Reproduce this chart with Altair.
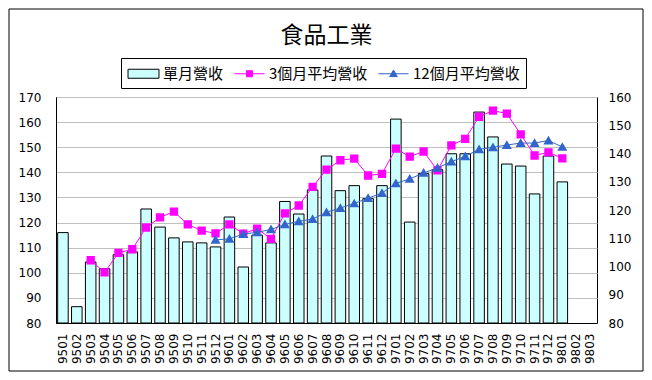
import altair as alt
import pandas as pd

months = ["9501", "9502", "9503", "9504", "9505", "9506", "9507", "9508", "9509", "9510", "9511", "9512",
          "9601", "9602", "9603", "9604", "9605", "9606", "9607", "9608", "9609", "9610", "9611", "9612",
          "9701", "9702", "9703", "9704", "9705", "9706", "9707", "9708", "9709", "9710", "9711", "9712",
          "9801", "9802", "9803"]

bar_vals = [116, 86.5, 104.3, 101.6, 107.2, 108.3, 125.4, 118.2, 113.9, 112.3, 111.9, 110.3,
            122.2, 102.3, 115.0, 111.9, 128.4, 123.4, 133.0, 146.5, 132.7, 134.7, 129.5, 134.7,
            161.2, 120.2, 139.5, 141.1, 147.4, 147.4, 164.0, 154.1, 143.3, 142.5, 131.4, 146.5,
            136.2]

avg3_vals = [102.2, 97.9, 104.8, 106.1, 113.8, 117.4, 119.4, 114.9, 112.7, 111.7,
             114.9, 111.6, 113.4, 109.8, 118.8, 121.6, 128.2, 134.3, 137.6, 138.2, 132.2, 132.8,
             141.7, 138.9, 140.7, 134.0, 142.9, 145.2, 153.0, 155.2, 154.1, 146.8, 139.3, 140.4,
             138.3]

avg12_vals = [109.4,
              109.8, 111.5, 112.1, 113.1, 114.9, 116.0, 116.8, 119.2, 120.7, 122.3, 124.2, 126.0,
              129.4, 131.0, 133.1, 134.9, 137.1, 139.0, 141.5, 142.2, 143.0, 143.7, 143.7, 144.6,
              142.3]

series_names = ["單月營收", "3個月平均營收", "12個月平均營收"]
series_colors = ["#CCFFFF", "#FF00FF", "#3366CC"]
series_strokes = ["black", "#FF00FF", "#3366CC"]
left_ticks = [80, 90, 100, 110, 120, 130, 140, 150, 160, 170]
right_ticks = [80, 90, 100, 110, 120, 130, 140, 150, 160]

bar_df = pd.DataFrame({"month": months[:len(bar_vals)], "value": bar_vals, "series": series_names[0]})
a3_df = pd.DataFrame({"month": months[2:2 + len(avg3_vals)], "value": avg3_vals, "series": series_names[1]})
a12_df = pd.DataFrame({"month": months[11:11 + len(avg12_vals)], "value": avg12_vals, "series": series_names[2]})

FONT = "DejaVu Sans"
CJK = "Noto Sans CJK TC"

x_enc = alt.X(
    "month:O",
    sort=months,
    scale=alt.Scale(domain=months, paddingInner=0.24, paddingOuter=0.12),
    axis=alt.Axis(title=None, labelAngle=270, labelFontSize=12, labelFont=FONT, labelColor="black",
                  ticks=False, domainColor="black", labelPadding=10, grid=False, labelOverlap=False),
)

n0, n1, n2 = series_names
shape_expr = (f"datum.value == '{n0}' ? 'M-1.72,-0.5H1.72V0.5H-1.72Z' : "
              f"(datum.value == '{n1}' ? 'M-1.67,0H1.67M-0.34,-0.34H0.34V0.34H-0.34Z' : "
              f"'M-1.67,0H1.67M0,-0.42L0.42,0.32H-0.42Z')")

legend = alt.Legend(
    title=None, orient="none", legendX=65, legendY=-39, direction="horizontal", columns=3,
    labelFont=CJK, labelFontSize=15, labelColor="black", symbolSize=324,
    strokeColor="black", padding=6, columnPadding=8, labelOffset=10, symbolOffset=7,
    symbolType=alt.ExprRef(expr=shape_expr),
    symbolStrokeWidth=1, symbolOpacity=1,
)

color = alt.Color("series:N", scale=alt.Scale(domain=series_names, range=series_colors), legend=legend)
stroke = alt.Stroke("series:N", scale=alt.Scale(domain=series_names, range=series_strokes), legend=legend)

bars = alt.Chart(bar_df).mark_bar(strokeWidth=1).encode(
    x=x_enc,
    y=alt.Y("value:Q", scale=alt.Scale(domain=[80, 170], nice=False, zero=False),
            axis=alt.Axis(title=None, values=left_ticks, labelFont=FONT, labelFontSize=12,
                          labelColor="black", ticks=False, labelPadding=15, domainColor="black",
                          grid=True, gridColor="#C0C0C0", gridWidth=1)),
    y2=alt.datum(80),
    color=color,
    stroke=stroke,
)

right_axis = alt.Axis(title=None, orient="right", values=right_ticks, labelFont=FONT, labelFontSize=12,
                      labelColor="black", ticks=False, labelPadding=11, domain=False, grid=False)
right_scale = alt.Scale(domain=[80, 160], nice=False, zero=False)

line3 = alt.Chart(a3_df).mark_line(
    strokeWidth=1, point=alt.OverlayMarkDef(shape="square", size=40, filled=True)
).encode(x=x_enc, y=alt.Y("value:Q", scale=right_scale, axis=right_axis), color=color, stroke=stroke)

line12 = alt.Chart(a12_df).mark_line(
    strokeWidth=1, point=alt.OverlayMarkDef(shape="triangle-up", size=44, filled=True)
).encode(x=x_enc, y=alt.Y("value:Q", scale=right_scale, axis=right_axis), color=color, stroke=stroke)

frame = alt.Chart(pd.DataFrame({"a": [0]})).mark_rect(
    fill="transparent", stroke="black", strokeWidth=1
).encode(x=alt.value(-47), x2=alt.value(587), y=alt.value(-88), y2=alt.value(274))

chart = alt.layer(frame, bars, alt.layer(line3, line12)).resolve_scale(y="independent").properties(
    width=541, height=226,
    title=alt.Title("食品工業", font=CJK, fontSize=23, fontWeight="normal", color="black",
                    anchor="middle", offset=11, dy=50),
    autosize=alt.AutoSizeParams(type="none"),
    padding={"left": 48, "top": 89, "right": 47, "bottom": 49},
    background="white",
).configure_view(stroke="black", strokeWidth=1)

chart.save("out.html", embed_options={"renderer": "svg", "actions": False})
